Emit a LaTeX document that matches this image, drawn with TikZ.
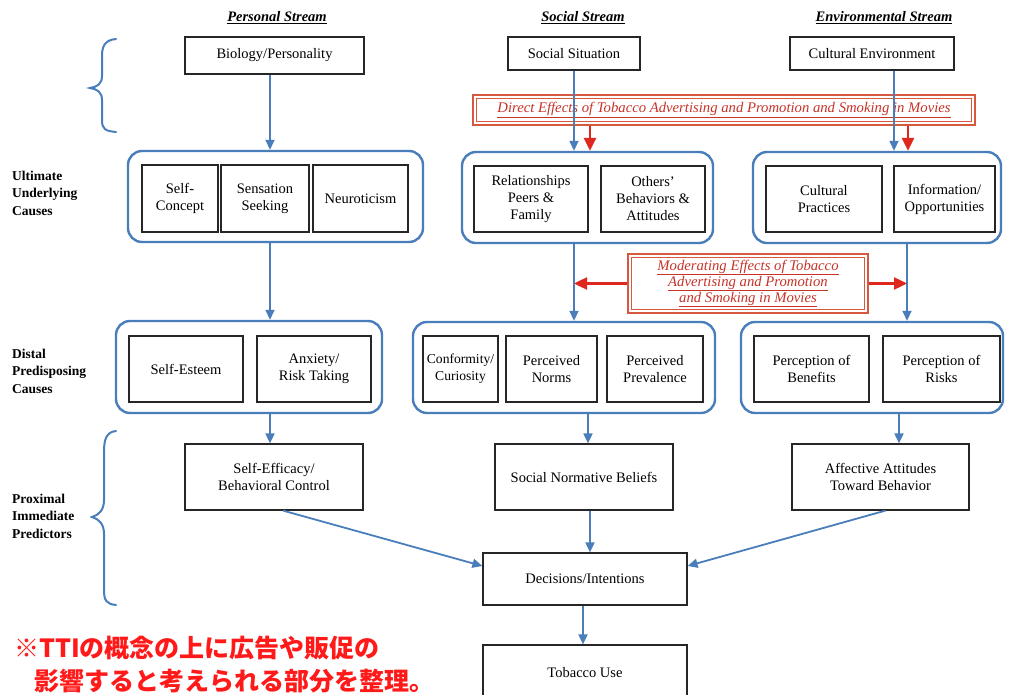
\documentclass[tikz,border=0pt]{standalone}
\usepackage{fontspec}
\setmainfont{Liberation Serif}
\newfontfamily\jp{Noto Sans CJK JP}
\usetikzlibrary{arrows.meta,calc}
\definecolor{bl}{RGB}{74,126,187}
\definecolor{rbox}{RGB}{214,88,62}
\definecolor{rtxt}{RGB}{200,50,40}
\definecolor{rarr}{RGB}{222,40,30}
\definecolor{jred}{RGB}{255,25,25}
\begin{document}
\begin{tikzpicture}[x=1pt,y=-1pt,
  wh/.style 2 args={minimum width=#1pt, minimum height=#2pt},
  ibox/.style={draw=black!85, line width=1.2pt, align=center, inner sep=0pt, font=\fontsize{14.5}{17}\selectfont},
  grp/.style={draw=bl, line width=2.4pt, rounded corners=14pt, inner sep=0pt},
  barrow/.style={draw=bl, line width=1.8pt, -{Triangle[width=9pt,length=10pt]}},
  rarrow/.style={draw=rarr, line width=2.4pt, -{Triangle[width=12pt,length=13pt]}},
  lab/.style={font=\bfseries\fontsize{13.5}{17.5}\selectfont, align=left, anchor=west, inner sep=0pt},
  hdr/.style={font=\bfseries\itshape\fontsize{14.5}{16}\selectfont, inner sep=0pt},
  rlab/.style={font=\itshape\fontsize{14.7}{16}\selectfont, text=rtxt, align=center},
  jpt/.style={font=\jp\bfseries\fontsize{25}{28}\selectfont, text=jred, inner sep=0pt, anchor=west},
]
\useasboundingbox (0,0) rectangle (1013,695);
\fill[white] (0,0) rectangle (1013,695);

% headers
\node[hdr] (h1) at (277,18) {\underline{Personal Stream}};
\node[hdr] (h2) at (583,18) {\underline{Social Stream}};
\node[hdr] (h3) at (884,18) {\underline{Environmental Stream}};

% top boxes
\node[ibox, wh={179}{37}] (bio) at (274.5,55.5) {Biology/Personality};
\node[ibox, wh={132}{33}] (soc) at (574,53.5) {Social Situation};
\node[ibox, wh={164}{33}] (cult) at (872,53.5) {Cultural Environment};

% direct effects box
\node[draw=rbox, line width=2.6pt, wh={502}{30}, rlab] (dir) at (724,110)
  {\underline{Direct Effects of Tobacco Advertising and Promotion and Smoking in Movies}};
\draw[rbox, line width=0.9pt] ($(dir.north west)+(4.5,4.5)$) rectangle ($(dir.south east)+(-4.5,-4.5)$);

% row 1 groups
\node[grp, wh={295}{91}] (g1p) at (275.5,196.5) {};
\node[ibox, wh={76}{67}] (sc) at (180,198.5) {Self-\\Concept};
\node[ibox, wh={88}{67}] (ss) at (265,198.5) {Sensation\\Seeking};
\node[ibox, wh={95}{67}] (neu) at (360.5,198.5) {Neuroticism};

\node[grp, wh={251}{91}] (g1s) at (587.5,197.5) {};
\node[ibox, wh={114}{66}] (rel) at (531,199) {Relationships\\Peers \&\\Family};
\node[ibox, wh={104}{66}] (oth) at (653,199) {Others’\\Behaviors \&\\Attitudes};

\node[grp, wh={248}{91}] (g1e) at (877,197.5) {};
\node[ibox, wh={116}{66}] (cp) at (824,199) {Cultural\\Practices};
\node[ibox, wh={101}{66}] (io) at (944.5,199) {Information/\\Opportunities};

% moderating box
\node[draw=rbox, line width=2.6pt, wh={240}{59}, rlab] (mod) at (748,283.5)
  {\underline{Moderating Effects of Tobacco}\\\underline{Advertising and Promotion}\\\underline{and Smoking in Movies}};
\draw[rbox, line width=0.9pt] ($(mod.north west)+(4.5,4.5)$) rectangle ($(mod.south east)+(-4.5,-4.5)$);

% row 2 groups
\node[grp, wh={266}{92}] (g2p) at (249,367) {};
\node[ibox, wh={114}{66}] (se) at (186,369) {Self-Esteem};
\node[ibox, wh={114}{66}] (anx) at (314,369) {Anxiety/\\Risk Taking};

\node[grp, wh={302}{91}] (g2s) at (564,367.5) {};
\node[ibox, wh={75}{66}, font=\fontsize{13.6}{17}\selectfont] (conf) at (460.5,369) {Conformity/\\Curiosity};
\node[ibox, wh={91}{66}] (pn) at (551.5,369) {Perceived\\Norms};
\node[ibox, wh={96}{66}] (pp) at (655,369) {Perceived\\Prevalence};

\node[grp, wh={262}{91}] (g2e) at (872,367.5) {};
\node[ibox, wh={115}{66}] (pb) at (811.5,369) {Perception of\\Benefits};
\node[ibox, wh={117}{66}] (pr) at (941.5,369) {Perception of\\Risks};

% row 3
\node[ibox, wh={178}{66}] (sefc) at (274,477) {Self-Efficacy/\\Behavioral Control};
\node[ibox, wh={178}{66}] (snb) at (584,477) {Social Normative Beliefs};
\node[ibox, wh={177}{66}] (aff) at (880.5,477) {Affective Attitudes\\Toward Behavior};
\node[ibox, wh={204}{52}] (dec) at (585,579) {Decisions/Intentions};
\node[ibox, wh={204}{56}] (tob) at (585,673) {Tobacco Use};

% left labels
\node[lab] (l1) at (12,193) {Ultimate\\Underlying\\Causes};
\node[lab] (l2) at (12,371) {Distal\\Predisposing\\Causes};
\node[lab] (l3) at (12,516) {Proximal\\Immediate\\Predictors};

% braces
\draw[bl, line width=2pt, line cap=round]
  (116,39) .. controls (105,40) and (102,46) .. (102,56) -- (102,76)
  .. controls (102,84) and (97,87) .. (90,88)
  .. controls (97,89) and (102,92) .. (102,100) -- (102,120)
  .. controls (102,129) and (105,131) .. (116,132);
\draw[bl, line width=2pt, line cap=round]
  (116,431) .. controls (106,432) and (104,440) .. (104,452) -- (104,500)
  .. controls (104,510) and (99,515) .. (92,517)
  .. controls (99,519) and (104,524) .. (104,534) -- (104,590)
  .. controls (104,600) and (106,604) .. (116,605);

% coordinates for offset connectors
\coordinate (xc) at (894,0);
\coordinate (xe) at (907,0);
\coordinate (xr1) at (590,0);
\coordinate (xr2) at (908,0);
\coordinate (xp) at (270,0);
\coordinate (xs2) at (588,0);
\coordinate (xe2) at (899,0);
\coordinate (xd) at (590,0);

% blue connectors
\draw[barrow] (xp |- bio.south) -- (xp |- g1p.north);
\draw[barrow] (soc) -- (soc |- g1s.north);
\draw[barrow] (xc |- cult.south) -- (xc |- g1e.north);
\draw[barrow] (xp |- g1p.south) -- (xp |- g2p.north);
\draw[barrow] (soc |- g1s.south) -- (soc |- g2s.north);
\draw[barrow] (xe |- g1e.south) -- (xe |- g2e.north);
\draw[barrow] (xp |- g2p.south) -- (xp |- sefc.north);
\draw[barrow] (xs2 |- g2s.south) -- (xs2 |- snb.north);
\draw[barrow] (xe2 |- g2e.south) -- (xe2 |- aff.north);
\draw[barrow] ($(sefc.south)+(9,0)$) -- ($(dec.west)+(0,-13)$);
\draw[barrow] (xd |- snb.south) -- (xd |- dec.north);
\draw[barrow] ($(aff.south)+(5,0)$) -- ($(dec.east)+(0,-13)$);
\draw[barrow] ($(dec.south)+(-2,0)$) -- ($(tob.north)+(-2,0)$);

% red connectors
\draw[rarrow] (xr1 |- dir.south) -- (xr1 |- g1s.north);
\draw[rarrow] (xr2 |- dir.south) -- (xr2 |- g1e.north);
\draw[rarrow] (mod.west) -- (mod.west -| soc);
\draw[rarrow] (mod.east) -- (mod.east -| xe);

% Japanese note
\node[jpt] (j1) at (14,648) {※TTIの概念の上に広告や販促の};
\node[jpt] (j2) at (34,681) {影響すると考えられる部分を整理。};
\end{tikzpicture}
\end{document}
